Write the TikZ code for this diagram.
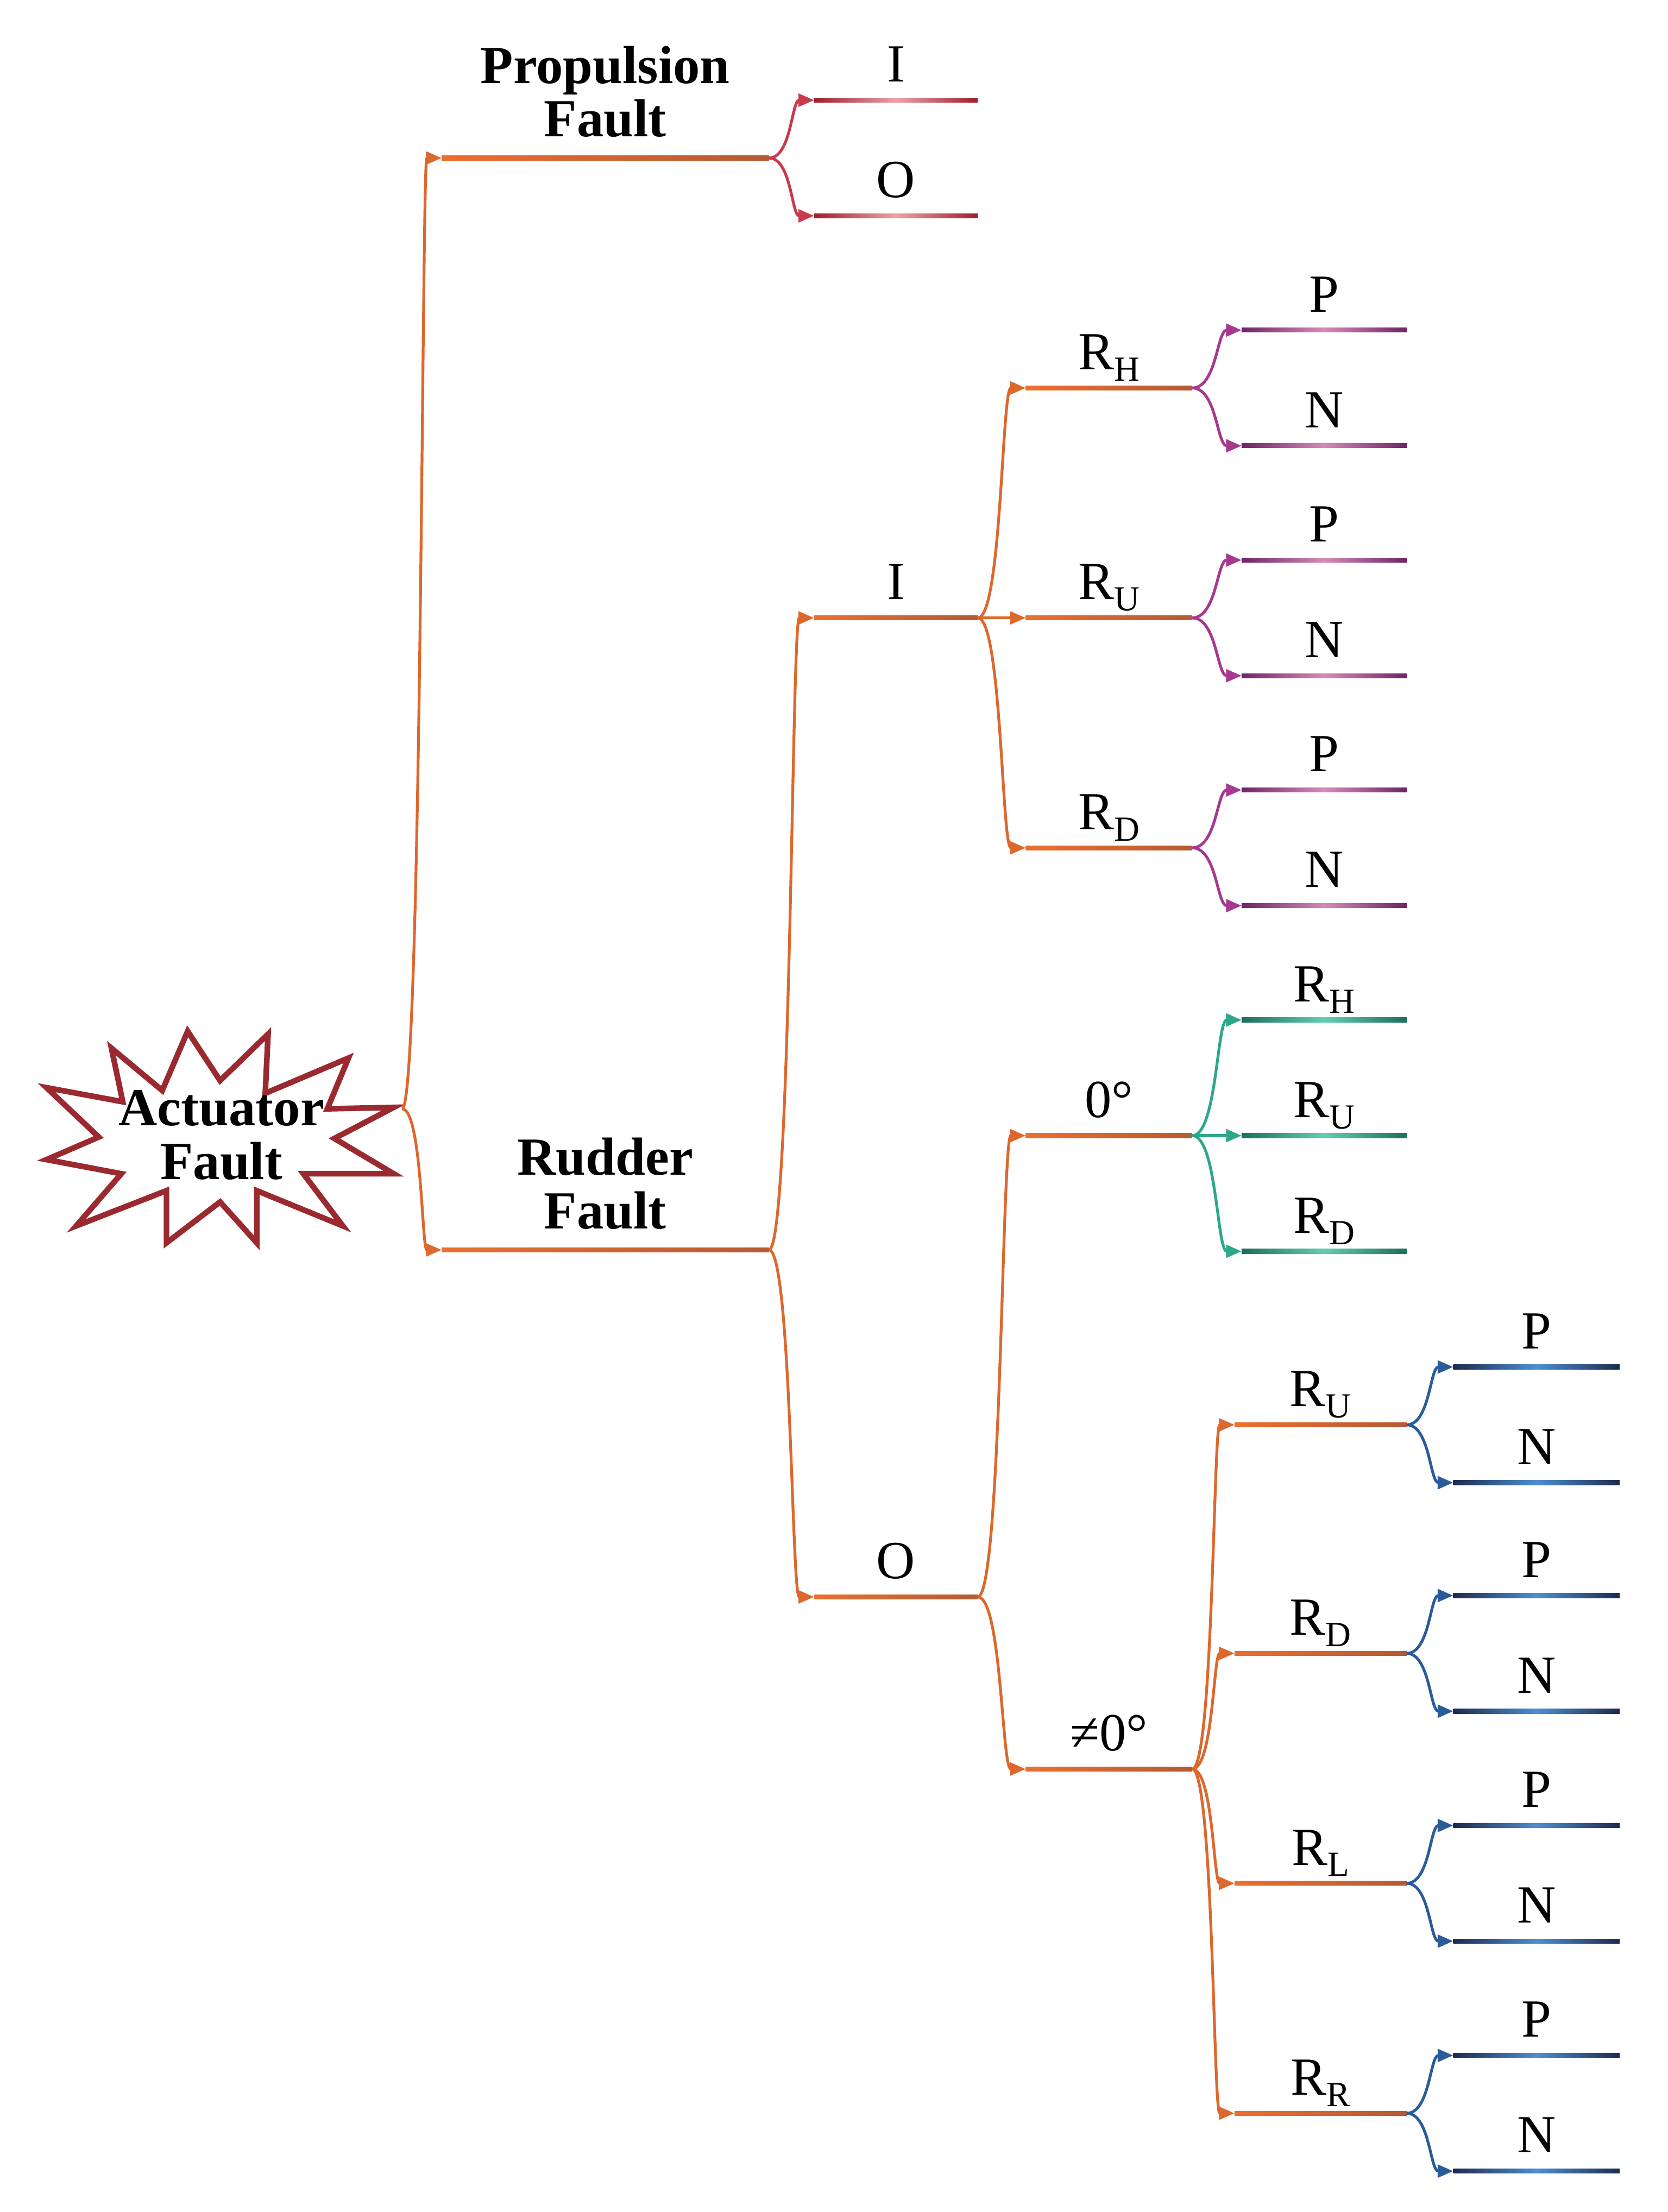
\documentclass[tikz,border=0pt]{standalone}
\usepackage{fontspec}
\setmainfont{Liberation Serif}
\usetikzlibrary{arrows.meta,calc}
\definecolor{orL}{HTML}{EC6F2E}
\definecolor{orR}{HTML}{B55A32}
\definecolor{orC}{HTML}{DD682E}
\definecolor{redD}{HTML}{9E1F2A}
\definecolor{redL}{HTML}{EAA2AA}
\definecolor{redC}{HTML}{C93A4C}
\definecolor{purD}{HTML}{6E2466}
\definecolor{purL}{HTML}{D58AB8}
\definecolor{purC}{HTML}{A8388F}
\definecolor{tealD}{HTML}{1E6E5C}
\definecolor{tealL}{HTML}{62CDB2}
\definecolor{tealC}{HTML}{2BA88A}
\definecolor{bluD}{HTML}{1E2A4E}
\definecolor{bluL}{HTML}{4C8FD0}
\definecolor{bluC}{HTML}{2A5C9A}
\definecolor{starC}{HTML}{9B2A30}
\newcommand\subx[1]{\raisebox{-4pt}{\fontsize{12.5}{12.5}\selectfont #1}}
\newcommand\mkbar[7]{%
  \coordinate (#1s) at (#2,#4); \coordinate (#1e) at (#3,#4);
  \shade[#5] (#2,#4-1.6) rectangle (#3,#4+1.6);
  \node[lab] (#1l) at ({(#2+#3)/2},#4-#7) {#6};}
\newcommand\conn[3]{\draw[cn,#3] let \p1=(#1),\p2=(#2) in (\p1) .. controls ({0.5*\x1+0.5*\x2},\y1) and ({0.5*\x1+0.5*\x2},\y2) .. (\p2);}
\newcommand\pn[6]{%
  \mkbar{#2p}{#3}{#4}{#5-41}{#6}{P}{13}
  \mkbar{#2n}{#3}{#4}{#5+41}{#6}{N}{13}}
\begin{document}
\begin{tikzpicture}[x=0.5pt,y=-0.5pt,
  lab/.style={anchor=base,inner sep=0pt,font=\fontsize{19}{19}\selectfont,align=center},
  blab/.style={lab,font=\fontsize{19}{19}\selectfont\bfseries},
  cn/.style={line width=1pt,-{Triangle[length=5.5pt,width=4.5pt]}},
  ob/.style={left color=orL,right color=orR},
  rb/.style={left color=redD,right color=redD,middle color=redL},
  pb/.style={left color=purD,right color=purD,middle color=purL},
  tb/.style={left color=tealD,right color=tealD,middle color=tealL},
  bb/.style={left color=bluD,right color=bluD,middle color=bluL}]
\useasboundingbox (0,0) rectangle (1182,1568);
% star
\draw[starC,line width=2pt,line join=miter] (133,731)--(156,766)--(190,733)--(188,775)--(247,750)--(232,786)--(279,785)--(237,807)--(279,832)--(215,832)--(243,869)--(182,844)--(182,881)--(156,852)--(118,881)--(118,844)--(54,869)--(86,832)--(33,822)--(70,806)--(33,771)--(87,781)--(79,743)--(115,773)--cycle;
\node[blab] (act) at (157,836) {Actuator\\Fault};
\coordinate (root) at (285,786);
% level 1
\mkbar{pf}{313}{545}{112}{ob}{\textbf{Propulsion}\\\textbf{Fault}}{15}
\mkbar{rf}{313}{545}{886}{ob}{\textbf{Rudder}\\\textbf{Fault}}{15}
\conn{root}{pfs}{orC}
\conn{root}{rfs}{orC}
% propulsion leaves
\mkbar{pi}{577}{693}{71}{rb}{I}{13}
\mkbar{po}{577}{693}{153}{rb}{O}{13}
\conn{pfe}{pis}{redC}
\conn{pfe}{pos}{redC}
% rudder I / O
\mkbar{ri}{577}{693}{438}{ob}{I}{13}
\mkbar{ro}{577}{693}{1132}{ob}{O}{13}
\conn{rfe}{ris}{orC}
\conn{rfe}{ros}{orC}
% I children
\mkbar{ih}{727}{845}{275}{ob}{R\subx{H}}{13}
\mkbar{iu}{727}{845}{438}{ob}{R\subx{U}}{13}
\mkbar{id}{727}{845}{601}{ob}{R\subx{D}}{13}
\conn{rie}{ihs}{orC}
\draw[cn,orC] (rie) -- (ius);
\conn{rie}{ids}{orC}
\pn{ih}{ihx}{880}{997}{275}{pb}
\pn{iu}{iux}{880}{997}{438}{pb}
\pn{id}{idx}{880}{997}{601}{pb}
\conn{ihe}{ihxps}{purC} \conn{ihe}{ihxns}{purC}
\conn{iue}{iuxps}{purC} \conn{iue}{iuxns}{purC}
\conn{ide}{idxps}{purC} \conn{ide}{idxns}{purC}
% O children
\mkbar{oz}{727}{845}{805}{ob}{0°}{13}
\mkbar{on}{727}{845}{1254}{ob}{≠0°}{13}
\conn{roe}{ozs}{orC}
\conn{roe}{ons}{orC}
% 0 deg children
\mkbar{zh}{880}{997}{723}{tb}{R\subx{H}}{13}
\mkbar{zu}{880}{997}{805}{tb}{R\subx{U}}{13}
\mkbar{zd}{880}{997}{887}{tb}{R\subx{D}}{13}
\conn{oze}{zhs}{tealC}
\draw[cn,tealC] (oze) -- (zus);
\conn{oze}{zds}{tealC}
% non-zero children
\mkbar{nu}{875}{997}{1010}{ob}{R\subx{U}}{13}
\mkbar{nd}{875}{997}{1172}{ob}{R\subx{D}}{13}
\mkbar{nl}{875}{997}{1335}{ob}{R\subx{L}}{13}
\mkbar{nr}{875}{997}{1498}{ob}{R\subx{R}}{13}
\conn{one}{nus}{orC}
\conn{one}{nds}{orC}
\conn{one}{nls}{orC}
\conn{one}{nrs}{orC}
\pn{nu}{nux}{1030}{1148}{1010}{bb}
\pn{nd}{ndx}{1030}{1148}{1172}{bb}
\pn{nl}{nlx}{1030}{1148}{1335}{bb}
\pn{nr}{nrx}{1030}{1148}{1498}{bb}
\conn{nue}{nuxps}{bluC} \conn{nue}{nuxns}{bluC}
\conn{nde}{ndxps}{bluC} \conn{nde}{ndxns}{bluC}
\conn{nle}{nlxps}{bluC} \conn{nle}{nlxns}{bluC}
\conn{nre}{nrxps}{bluC} \conn{nre}{nrxns}{bluC}
\end{tikzpicture}
\end{document}
